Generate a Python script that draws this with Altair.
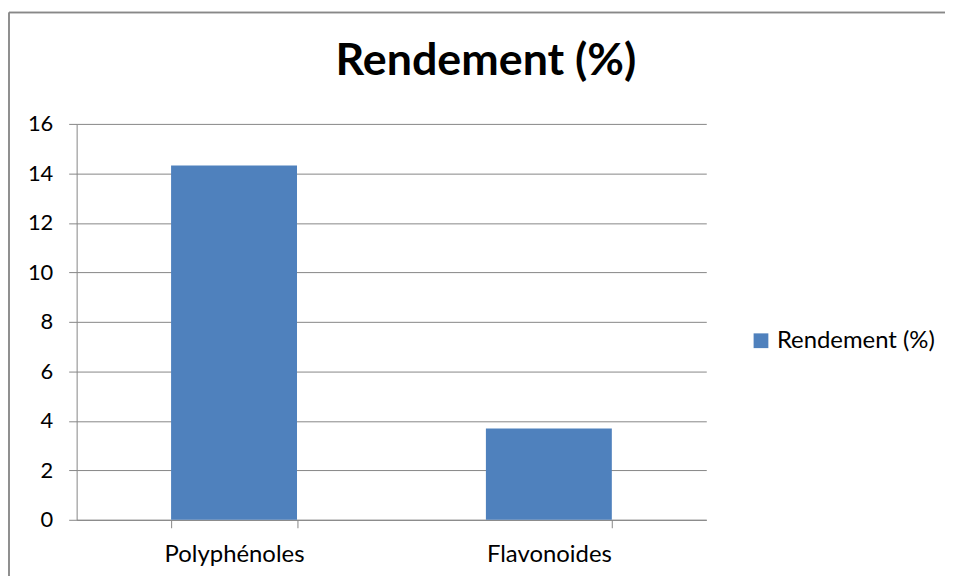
import altair as alt
import pandas as pd

categories = ["Polyphénoles", "Flavonoides"]
values = [14.32, 3.69]
series = ["Rendement (%)", "Rendement (%)"]
y_ticks = [0, 2, 4, 6, 8, 10, 12, 14, 16]

df = pd.DataFrame({"cat": categories, "val": values, "series": series})

FONT = "Lato"
GRID = "#868686"

bars = alt.Chart(df).mark_bar(color="#4F81BD").encode(
    x=alt.X("cat:N", sort=categories, title=None,
            scale=alt.Scale(paddingInner=0.6, paddingOuter=0.3),
            axis=alt.Axis(labelAngle=0, tickBand="extent", ticks=True, tickSize=8,
                          tickColor=GRID, domainColor=GRID, labelFontSize=24,
                          labelFont=FONT, labelColor="#000000", labelPadding=15,
                          grid=False)),
    y=alt.Y("val:Q", title=None,
            scale=alt.Scale(domain=[0, 16], nice=False),
            axis=alt.Axis(values=y_ticks, tickSize=8, tickColor=GRID, domainColor=GRID,
                          gridColor=GRID, grid=True, labelFontSize=22, labelFont=FONT,
                          labelColor="#000000", labelPadding=16)),
    color=alt.Color("series:N", title=None,
                    scale=alt.Scale(domain=["Rendement (%)"], range=["#4F81BD"]),
                    legend=alt.Legend(orient="none", legendX=676, legendY=206,
                                      symbolType="square", symbolSize=220,
                                      symbolStrokeWidth=0, labelFontSize=24,
                                      labelFont=FONT, labelColor="#000000",
                                      symbolOpacity=1)),
)

frame_left = alt.Chart(df).mark_rule(color="#888888", strokeWidth=1.5, clip=False).encode(
    x=alt.value(-68), y=alt.value(-112), y2=alt.value(460)
)
frame_top = alt.Chart(df).mark_rule(color="#888888", strokeWidth=1.5, clip=False).encode(
    x=alt.value(-68), x2=alt.value(880), y=alt.value(-112)
)

chart = alt.layer(frame_left, frame_top, bars).properties(
    width=633, height=398,
    autosize=alt.AutoSizeParams(type="none"),
    padding={"left": 69, "top": 115, "right": 240, "bottom": 55},
    title=alt.TitleParams("Rendement (%)", fontSize=45, font=FONT, fontWeight="bold",
                          color="#000000", anchor="middle", dx=95, offset=-109,
                          baseline="alphabetic"),
).configure_view(stroke=None).configure_axis(domainWidth=1, tickWidth=1, gridWidth=1)

chart.save("out.html", embed_options={"renderer": "svg", "actions": False})
